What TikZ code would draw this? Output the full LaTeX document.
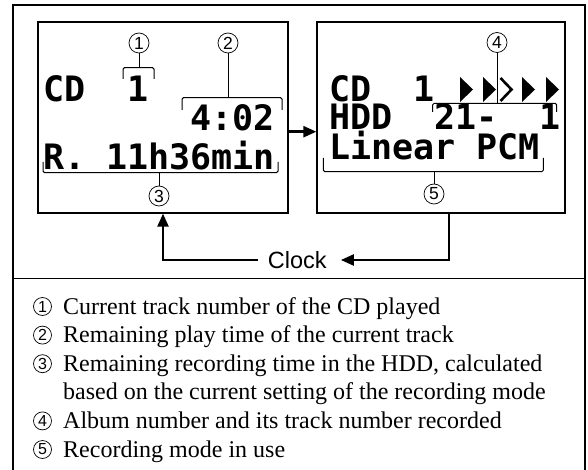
\documentclass[tikz,border=0pt]{standalone}
\usepackage{fontspec}
\setmainfont{Liberation Serif}
\newfontfamily\lcdfont{DejaVu Sans Mono}
\newfontfamily\labsans{Liberation Sans}
\usetikzlibrary{arrows.meta}
\begin{document}
\begin{tikzpicture}[x=1pt,y=-1pt,
  frameline/.style={line width=1.2pt},
  disp/.style={draw, line width=1.3pt, inner sep=0pt, minimum height=191pt},
  lcd/.style={font=\lcdfont\bfseries\fontsize{35}{35}\selectfont, inner sep=0pt, anchor=base west, text height=25pt, text depth=0pt},
  brk/.style={line width=1pt, rounded corners=1.5pt},
  callout/.style={circle, draw, line width=0.7pt, minimum size=20pt, inner sep=0pt, font=\labsans\fontsize{17.5}{17.5}\selectfont},
  listnum/.style={circle, draw, line width=0.7pt, minimum size=18pt, inner sep=0pt, font=\labsans\fontsize{16}{16}\selectfont},
  listtext/.style={font=\fontsize{24}{24}\selectfont, inner sep=0pt, anchor=base west},
  arr/.style={line width=2.4pt, -{Triangle[length=13pt,width=11pt]}},
  icon/.style={fill=black}
]
\useasboundingbox (0,0) rectangle (588,470);
% outer frame
\draw[frameline] (13,470) -- (13,5) -- (585,5) -- (585,470);
\draw[frameline] (13,278.5) -- (585,278.5);

% display boxes
\node[disp, minimum width=250pt] (lbox) at (163,117.5) {};
\node[disp, minimum width=248pt] (rbox) at (441,117.5) {};

% left display text
\node[lcd] (lcd1) at (43,102) {CD};
\node[lcd] (ltrk) at (127.3,102) {1};
\node[lcd] (ltime) at (190.5,130.5) {4:02};
\node[lcd] (lr) at (43,170) {R.};
\node[lcd] (lrem) at (106.2,170) {11h36min};

% right display text
\node[lcd] (rcd) at (329,101.7) {CD};
\node[lcd] (rtrk) at (413.3,101.7) {1};
\node[lcd] (rhdd) at (329,130) {HDD};
\node[lcd] (ralb) at (434.4,130) {21-};
\node[lcd] (rtn) at (539.7,130) {1};
\node[lcd] (rlin) at (329,160) {Linear};
\node[lcd] (rpcm) at (476.5,160) {PCM};

% play icons
\fill[icon] (460,77) -- (473,89.5) -- (460,102) -- cycle;
\fill[icon] (483,77) -- (496,89.5) -- (483,102) -- cycle;
\draw[line width=2.6pt] (500.5,78) -- (511.5,89.5) -- (500.5,101);
\fill[icon] (522,77) -- (535,89.5) -- (522,102) -- cycle;
\fill[icon] (546,77) -- (559,89.5) -- (546,102) -- cycle;

% callouts
\node[callout] (c1) at (139,43) {1};
\node[callout] (c2) at (228,43) {2};
\node[callout] (c3) at (159,196) {3};
\node[callout] (c4) at (497,42.5) {4};
\node[callout] (c5) at (434,194) {5};

% brackets
\draw[brk] (123,79) -- (123,67.7) -- (154,67.7) -- (154,79);
\draw[line width=1pt] (139,67.7) -- (c1.south);
\draw[brk] (182,110) -- (182,97.7) -- (282,97.7) -- (282,110);
\draw[line width=1pt] (228,97.7) -- (c2.south);
\draw[brk] (43,162) -- (43,172.7) -- (278,172.7) -- (278,162);
\draw[line width=1pt] (159,172.7) -- (c3.north);
\draw[brk] (432.7,112) -- (432.7,103.3) -- (556.7,103.3) -- (556.7,112);
\draw[line width=1pt] (497,103.3) -- (c4.south);
\draw[brk] (323.3,158) -- (323.3,171.7) -- (543.3,171.7) -- (543.3,158);
\draw[line width=1pt] (434,171.7) -- (c5.north);

% arrow between displays
\draw[arr] ([yshift=-14.2pt]lbox.east) -- ([yshift=-14.2pt]rbox.west);

% clock loop
\node[font=\labsans\fontsize{23.5}{23.5}\selectfont, inner sep=0pt, anchor=base] (clock) at (297.3,268) {Clock};
\coordinate (rturn) at (449,260);
\coordinate (lturn) at (163,260);
\draw[arr] (rturn |- rbox.south) -- (rturn) -- ([xshift=14pt]clock.east |- rturn);
\draw[arr] ([xshift=-10pt]clock.west |- lturn) -- (lturn) -- (lturn |- lbox.south);

% legend
\node[listnum] (n1) at (42.5,306.5) {1};
\node[listtext] (t1) at (63,314) {Current track number of the CD played};
\node[listnum] (n2) at (42.5,335.1) {2};
\node[listtext] (t2) at (63,342.6) {Remaining play time of the current track};
\node[listnum] (n3) at (42.5,363.7) {3};
\node[listtext] (t3) at (63,371.2) {Remaining recording time in the HDD, calculated};
\node[listtext] (t3b) at (63,399.8) {based on the current setting of the recording mode};
\node[listnum] (n4) at (42.5,420.9) {4};
\node[listtext] (t4) at (63,428.4) {Album number and its track number recorded};
\node[listnum] (n5) at (42.5,449.5) {5};
\node[listtext] (t5) at (63,457) {Recording mode in use};
\end{tikzpicture}
\end{document}
